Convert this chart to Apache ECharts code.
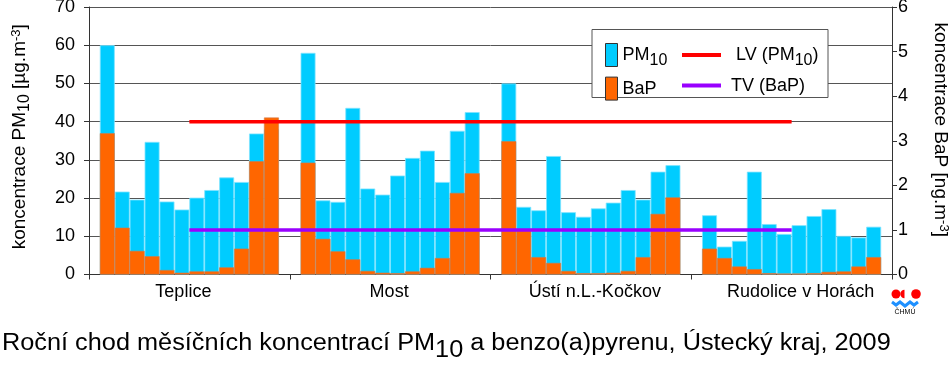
<!DOCTYPE html>
<html>
<head>
<meta charset="utf-8">
<script src="https://cdn.jsdelivr.net/npm/echarts@6/dist/echarts.min.js"></script>
<style>
html,body{margin:0;padding:0;background:#fff;}
#chart{width:950px;height:372px;}
</style>
</head>
<body>
<div id="chart"></div>
<script>
// ---- data ----
const stations = ['Teplice', 'Most', 'Ústí n.L.-Kočkov', 'Rudolice v Horách'];
const months = ['I','II','III','IV','V','VI','VII','VIII','IX','X','XI','XII'];
// PM10 monthly means [µg.m-3]
const pmTeplice  = [60.0, 21.7, 19.6, 34.7, 19.1, 17.0, 20.1, 22.1, 25.4, 24.2, 36.9, 38.0];
const pmMost     = [58.0, 19.4, 19.0, 43.6, 22.5, 20.9, 25.9, 30.5, 32.4, 24.2, 37.6, 42.5];
const pmUsti     = [50.0, 17.7, 16.8, 31.0, 16.3, 15.1, 17.3, 18.8, 22.1, 19.6, 26.9, 28.6];
const pmRudolice = [15.5,  7.3,  8.8, 26.9, 13.2, 10.6, 12.9, 15.3, 17.1, 10.1,  9.7, 12.5];
// BaP monthly means [ng.m-3]
const bapTeplice  = [3.17, 1.05, 0.53, 0.41, 0.10, 0.04, 0.07, 0.07, 0.16, 0.58, 2.54, 3.52];
const bapMost     = [2.51, 0.80, 0.52, 0.34, 0.08, 0.04, 0.03, 0.07, 0.15, 0.37, 1.83, 2.27];
const bapUsti     = [2.99, 1.00, 0.39, 0.26, 0.08, 0.03, 0.03, 0.04, 0.08, 0.39, 1.36, 1.73];
const bapRudolice = [0.58, 0.37, 0.18, 0.12, 0.03, 0.02, 0.02, 0.03, 0.06, 0.07, 0.18, 0.39];
// limits
const limitLV = [40, 40, 40, 40];   // PM10 limit value
const targetTV = [1, 1, 1, 1];      // BaP target value
// axes
const leftAxis = {min: 0, max: 70, interval: 10};
const rightAxis = {min: 0, max: 6, interval: 1};

const pmByStation = [pmTeplice, pmMost, pmUsti, pmRudolice];
const bapByStation = [bapTeplice, bapMost, bapUsti, bapRudolice];

const FONT = 'Liberation Sans, Arial, sans-serif';
const C_PM = '#00CCFF', C_BAP = '#FF6600', C_LV = '#FF0000', C_TV = '#9900FF';

const series = [];
months.forEach((m, i) => {
  series.push({
    name: 'PM10', type: 'bar', xAxisIndex: 0, yAxisIndex: 0,
    barGap: '0%', barCategoryGap: '10.8%',
    data: pmByStation.map(s => s[i]),
    itemStyle: {color: C_PM, borderColor: '#7FE3FF', borderWidth: 0.8},
    z: 2, silent: true
  });
});
months.forEach((m, i) => {
  series.push({
    name: 'BaP', type: 'bar', xAxisIndex: 1, yAxisIndex: 1,
    barGap: '0%', barCategoryGap: '10.8%',
    data: bapByStation.map(s => s[i]),
    itemStyle: {color: C_BAP, borderColor: '#D07A4A', borderWidth: 0.6},
    z: 3, silent: true
  });
});
series.push({
  name: 'LV', type: 'line', xAxisIndex: 0, yAxisIndex: 0, data: limitLV,
  showSymbol: false, symbol: 'none', lineStyle: {color: C_LV, width: 3.5}, itemStyle: {color: C_LV}, z: 5
});
series.push({
  name: 'TV', type: 'line', xAxisIndex: 0, yAxisIndex: 1, data: targetTV,
  showSymbol: false, symbol: 'none', lineStyle: {color: C_TV, width: 3.5}, itemStyle: {color: C_TV}, z: 5
});

const option = {
  animation: false,
  textStyle: {fontFamily: FONT},
  grid: {left: 89, right: 58, top: 7, bottom: 97.5, containLabel: false, outerBoundsMode: 'none'},
  xAxis: [{
    type: 'category', data: stations, boundaryGap: true,
    axisLine: {lineStyle: {color: '#333', width: 1}},
    axisTick: {show: true, length: 5, lineStyle: {color: '#333'}},
    axisLabel: {
      interval: 0, hideOverlap: false,
      color: '#000', fontSize: 18, fontFamily: FONT, margin: 9,
      formatter: v => {
        const i = stations.indexOf(v);
        if (i === 0) return '{t|' + v + '}{g12|}';
        if (i === 1) return '{t|' + v + '}{g2|}';
        if (i === 2) return '{g8|}{t|' + v + '}';
        return '{g18|}{t|' + v + '}';
      },
      rich: {
        t: {fontSize: 18, fontFamily: FONT, color: '#000'},
        g2: {width: 2}, g8: {width: 8}, g12: {width: 12}, g18: {width: 18}
      }
    },
    splitLine: {show: false}
  }, {
    type: 'category', data: stations, boundaryGap: true, show: false
  }],
  yAxis: [{
    type: 'value', position: 'left', min: leftAxis.min, max: leftAxis.max, interval: leftAxis.interval,
    axisLine: {show: true, lineStyle: {color: '#333'}},
    axisTick: {show: true, length: 5, lineStyle: {color: '#333'}},
    axisLabel: {color: '#000', fontSize: 18, fontFamily: FONT, margin: 14},
    splitLine: {show: true, lineStyle: {color: '#555', width: 1}},
    name: '{n|koncentrace PM}{s|10}{n| [µg.m}{p|-3}{n|]}',
    nameLocation: 'middle', nameGap: 59, nameRotate: 90,
    nameTextStyle: {
      color: '#000', fontFamily: FONT, fontSize: 19, padding: [0, 0, 0, 8],
      rich: {
        n: {fontSize: 19, fontFamily: FONT, color: '#000', lineHeight: 20},
        s: {fontSize: 16, fontFamily: FONT, color: '#000', lineHeight: 20, padding: [9, 0, 0, 0]},
        p: {fontSize: 13, fontFamily: FONT, color: '#000', lineHeight: 20, padding: [0, 0, 8, 0]}
      }
    }
  }, {
    type: 'value', position: 'right', min: rightAxis.min, max: rightAxis.max, interval: rightAxis.interval,
    axisLine: {show: true, lineStyle: {color: '#333'}},
    axisTick: {show: true, length: 5, lineStyle: {color: '#333'}},
    axisLabel: {color: '#000', fontSize: 18, fontFamily: FONT, margin: 6},
    splitLine: {show: false},
    name: '{n|koncentrace BaP [ng.m}{p|-3}{n|]}',
    nameLocation: 'middle', nameGap: 38, nameRotate: -90,
    nameTextStyle: {
      color: '#000', fontFamily: FONT, fontSize: 19, padding: [0, 22, 0, 0],
      rich: {
        n: {fontSize: 19, fontFamily: FONT, color: '#000', lineHeight: 20},
        p: {fontSize: 13, fontFamily: FONT, color: '#000', lineHeight: 20, padding: [0, 0, 8, 0]}
      }
    }
  }],
  legend: [{
    orient: 'vertical', left: 600, top: 36, itemWidth: 12, itemHeight: 23, itemGap: 7.6,
    data: [{name: 'PM10', icon: 'rect'}, {name: 'BaP', icon: 'rect'}],
    itemStyle: {borderColor: '#333', borderWidth: 1},
    selectedMode: false,
    formatter: n => n === 'PM10' ? '{n|PM}{s|10}' : '{n|' + n + '}',
    textStyle: {
      fontFamily: FONT, fontSize: 18, color: '#000',
      rich: {
        n: {fontSize: 18, fontFamily: FONT, color: '#000', lineHeight: 23},
        s: {fontSize: 16, fontFamily: FONT, color: '#000', lineHeight: 23, padding: [12, 0, 0, 0]}
      }
    }
  }, {
    orient: 'vertical', left: 677, top: 36, itemWidth: 39, itemHeight: 4, itemGap: 7.6,
    data: [{name: 'LV', icon: 'rect'}, {name: 'TV', icon: 'rect'}],
    selectedMode: false,
    formatter: n => n === 'LV' ? '{g|}{n|LV (PM}{s|10}{n|)}' : '{n|TV (BaP)}',
    textStyle: {
      fontFamily: FONT, fontSize: 18, color: '#000', padding: [0, 0, 0, 5],
      rich: {
        g: {width: 5, lineHeight: 23},
        n: {fontSize: 18, fontFamily: FONT, color: '#000', lineHeight: 23},
        s: {fontSize: 16, fontFamily: FONT, color: '#000', lineHeight: 23, padding: [12, 0, 0, 0]}
      }
    }
  }],
  graphic: [
    {type: 'rect', z: 3, shape: {x: 592, y: 29.5, width: 236, height: 68}, style: {fill: '#fff', stroke: '#555', lineWidth: 1}},
    // title (Excel original is slightly stretched horizontally)
    {type: 'text', z: 3, x: 2, y: 330, scaleX: 1.1, scaleY: 1,
      style: {
        text: '{n|Roční chod měsíčních koncentrací PM}{s|10}{n| a benzo(a)pyrenu, Ústecký kraj, 2009}',
        fontFamily: FONT, fontSize: 23, fill: '#000',
        rich: {
          n: {fontSize: 23, fontFamily: FONT, fill: '#000', lineHeight: 28},
          s: {fontSize: 23, fontFamily: FONT, fill: '#000', lineHeight: 28, padding: [14, 0, 0, 0]}
        }
      }
    },
    // ČHMÚ logo
    {type: 'circle', z: 3, shape: {cx: 896, cy: 294, r: 4.5}, style: {fill: '#FF0000'}},
    {type: 'sector', z: 3, shape: {cx: 904.5, cy: 294, r: 4.2, startAngle: Math.PI / 2, endAngle: Math.PI * 1.5}, style: {fill: '#FF0000'}},
    {type: 'circle', z: 3, shape: {cx: 916, cy: 294, r: 4.8}, style: {fill: '#FF0000'}},
    {type: 'polyline', z: 3, shape: {points: [[892, 302], [896, 305], [900, 302], [905, 306], [910, 302], [914, 305], [918, 302]]}, style: {stroke: '#1E90FF', lineWidth: 3, fill: null}},
    {type: 'text', z: 3, style: {x: 905, y: 312, text: 'ČHMÚ', fontSize: 7, fontFamily: FONT, fill: '#000', align: 'center', verticalAlign: 'middle'}}
  ],
  series: series
};

const chart = echarts.init(document.getElementById('chart'), null, {renderer: 'canvas'});
chart.setOption(option);
</script>
</body>
</html>
